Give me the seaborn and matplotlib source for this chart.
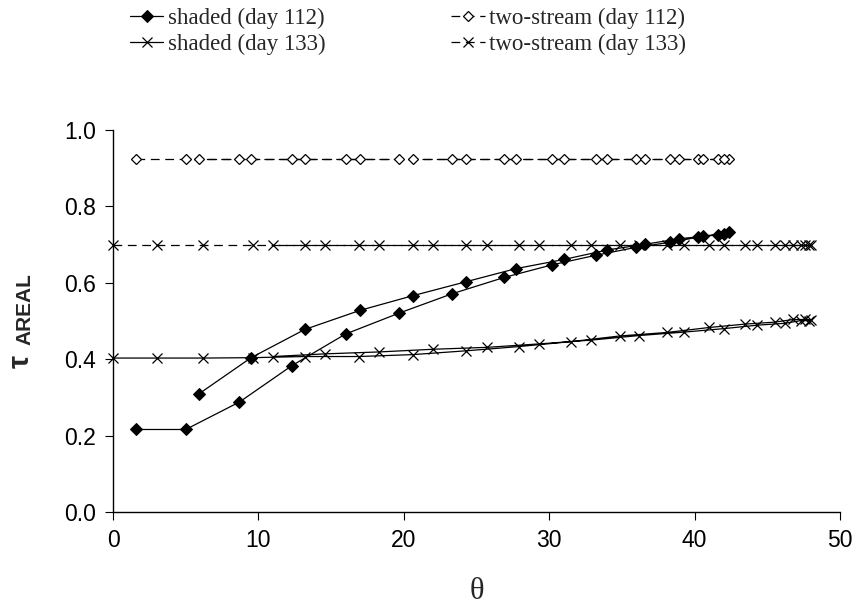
import matplotlib
matplotlib.use("Agg")
import matplotlib.pyplot as plt
import seaborn as sns

# Zenith angle (deg) along each day's track: out to the turning point and back
theta_112 = [1.6, 5.0, 8.7, 12.3, 16.0, 19.7, 23.3, 26.9, 30.2, 33.2, 36.0, 38.3, 40.2, 41.6, 42.4,
             42.0, 40.6, 38.9, 36.6, 34.0, 31.0, 27.7, 24.3, 20.6, 17.0, 13.2, 9.5, 5.9]
shaded_112 = [0.216, 0.216, 0.288, 0.383, 0.466, 0.521, 0.571, 0.614, 0.647, 0.672, 0.693, 0.706, 0.719, 0.726, 0.734,
              0.729, 0.722, 0.715, 0.701, 0.686, 0.661, 0.637, 0.603, 0.566, 0.528, 0.478, 0.404, 0.309]
twostream_112 = [0.925, 0.925, 0.925, 0.925, 0.925, 0.925, 0.925, 0.925, 0.925, 0.925, 0.925, 0.925, 0.925, 0.925,
                 0.925, 0.925, 0.925, 0.925, 0.925, 0.925, 0.925, 0.925, 0.925, 0.925, 0.925, 0.925, 0.925, 0.925]

theta_133 = [0.0, 3.0, 6.2, 9.6, 13.2, 16.9, 20.6, 24.3, 27.9, 31.5, 34.9, 38.1, 41.0, 43.5, 45.5, 46.8, 47.6, 48.0,
             47.9, 47.3, 46.2, 44.3, 42.0, 39.3, 36.2, 32.9, 29.3, 25.7, 22.0, 18.3, 14.6, 11.0]
shaded_133 = [0.403, 0.403, 0.403, 0.404, 0.407, 0.407, 0.412, 0.422, 0.433, 0.446, 0.461, 0.470, 0.483, 0.492,
              0.497, 0.504, 0.504, 0.503, 0.501, 0.501, 0.494, 0.489, 0.480, 0.471, 0.462, 0.450, 0.440, 0.431,
              0.426, 0.419, 0.414, 0.407]
twostream_133 = [0.700, 0.700, 0.700, 0.700, 0.700, 0.700, 0.700, 0.700, 0.700, 0.700, 0.700, 0.700, 0.700, 0.700,
                 0.700, 0.700, 0.700, 0.700, 0.700, 0.700, 0.700, 0.700, 0.700, 0.700, 0.700, 0.700, 0.700, 0.700,
                 0.700, 0.700, 0.700, 0.700]

x_ticks = [0, 10, 20, 30, 40, 50]
y_ticks = [0.0, 0.2, 0.4, 0.6, 0.8, 1.0]
y_tick_labels = ["0.0", "0.2", "0.4", "0.6", "0.8", "1.0"]

sns.set_style("ticks")
plt.rcParams["font.family"] = ["Liberation Sans", "DejaVu Sans"]

fig = plt.figure(figsize=(8.55, 6.14), dpi=100)
ax = fig.add_axes([113 / 855, 1 - 512 / 614, (840 - 113) / 855, (512 - 130) / 614])

dash = (0, (7, 4.5))
common = dict(ax=ax, sort=False, estimator=None, color="black", linewidth=0.9, clip_on=False)

sns.lineplot(x=theta_112, y=twostream_112, linestyle=dash, marker="D", markersize=4.8,
             markerfacecolor="white", markeredgecolor="black", markeredgewidth=0.9,
             label="two-stream (day 112)", zorder=3, **common)
sns.lineplot(x=theta_133, y=twostream_133, linestyle=dash, marker="x", markersize=6.8,
             markeredgecolor="black", markeredgewidth=0.9,
             label="two-stream (day 133)", zorder=3, **common)
sns.lineplot(x=theta_133, y=shaded_133, linestyle="-", marker="x", markersize=6.8,
             markeredgecolor="black", markeredgewidth=0.9,
             label="shaded (day 133)", zorder=4, **common)
sns.lineplot(x=theta_112, y=shaded_112, linestyle="-", marker="D", markersize=6.3,
             markerfacecolor="black", markeredgecolor="black",
             label="shaded (day 112)", zorder=5, **common)

ax.set_xlim(0, 50)
ax.set_ylim(0, 1.0)
ax.set_xticks(x_ticks)
ax.set_yticks(y_ticks)
ax.set_yticklabels(y_tick_labels)
ax.tick_params(axis="both", direction="out", length=6, width=0.8, pad=6, labelsize=16.5, colors="black")
for side in ("top", "right"):
    ax.spines[side].set_visible(False)
for side in ("left", "bottom"):
    ax.spines[side].set_linewidth(1.0)
    ax.spines[side].set_color("black")

ax.set_xlabel("θ", family=["Liberation Serif", "DejaVu Serif"], fontsize=22, labelpad=18)
ax.set_ylabel("")
fig.text(20.5 / 855, 1 - 362 / 614, "τ", rotation=90, ha="center", va="center",
         fontsize=21, fontweight="bold")
fig.text(25 / 855, 1 - 309 / 614, "AREAL", rotation=90, ha="center", va="center",
         fontsize=15, fontweight="bold")

handles, labels = ax.get_legend_handles_labels()
order = ["shaded (day 112)", "shaded (day 133)", "two-stream (day 112)", "two-stream (day 133)"]
lookup = dict(zip(labels, handles))
ax.legend([lookup[k] for k in order], order, ncol=2, loc="upper left",
          bbox_to_anchor=(130 / 855, 1 - 8 / 614), bbox_transform=fig.transFigure,
          frameon=False, borderpad=0, borderaxespad=0, handlelength=1.45, handletextpad=0.2,
          columnspacing=5.5, labelspacing=0.2,
          prop={"family": ["Liberation Serif", "DejaVu Serif"], "size": 16.5})

fig.savefig("out.png", dpi=100)
